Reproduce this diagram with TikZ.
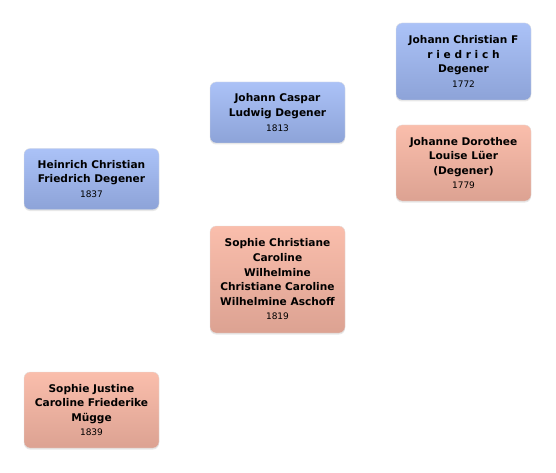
\documentclass[tikz,border=0pt]{standalone}
\usepackage{fontspec}
\setmainfont{DejaVu Sans}
\usetikzlibrary{positioning, shadows}
\definecolor{maletop}{RGB}{171,194,247}
\definecolor{malebot}{RGB}{141,163,216}
\definecolor{femtop}{RGB}{250,190,172}
\definecolor{fembot}{RGB}{220,162,146}
\newcommand{\yr}[1]{{\fontsize{9}{10}\selectfont\mdseries #1}}

\begin{document}
\begin{tikzpicture}[
      x=1pt, y=-1pt,
      person/.style={rectangle, rounded corners=6pt, draw=black!12, line width=0.3pt,
                     minimum width=135pt, inner sep=4pt,
                     font=\fontsize{10.6}{14.6}\selectfont\bfseries, align=center,
                     drop shadow={opacity=0.18, shadow xshift=0pt, shadow yshift=-1.5pt}},
      male/.style={person, top color=maletop, bottom color=malebot},
      female/.style={person, top color=femtop, bottom color=fembot}
    ]
    \useasboundingbox (0,0) rectangle (556,473);
    \node[male, minimum height=61pt] (heinrich) at (91.5,179) {Heinrich Christian\\Friedrich Degener\\\yr{1837}};
    \node[female, minimum height=76pt] (sophiej) at (91.5,410) {Sophie Justine\\Caroline Friederike\\Mügge\\\yr{1839}};
    \node[male, minimum height=61pt] (caspar) at (277.5,112.5) {Johann Caspar\\Ludwig Degener\\\yr{1813}};
    \node[female, minimum height=107pt] (sophiec) at (277.5,279.5) {Sophie Christiane\\Caroline\\Wilhelmine\\Christiane Caroline\\Wilhelmine Aschoff\\\yr{1819}};
    \node[male, minimum height=77pt] (christian) at (463.5,61.5) {Johann Christian F\\r i e d r i c h\\Degener\\\yr{1772}};
    \node[female, minimum height=76pt] (dorothee) at (463.5,163) {Johanne Dorothee\\Louise Lüer\\(Degener)\\\yr{1779}};
  \end{tikzpicture}
\end{document}
